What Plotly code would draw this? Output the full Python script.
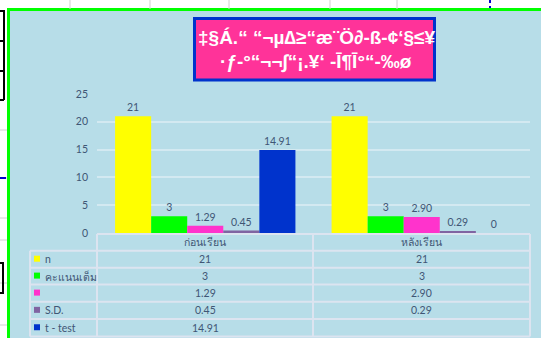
import plotly.graph_objects as go

# ---------------- data ----------------
categories = ["ก่อนเรียน", "หลังเรียน"]
series_names = ["n", "คะแนนเต็ม", "", "S.D.", "t - test"]
n_vals = [21, 21]
full_vals = [3, 3]
mean_vals = [1.29, 2.90]
sd_vals = [0.45, 0.29]
t_vals = [14.91, None]
series_fmt = ["{:.0f}", "{:.0f}", "{:.2f}", "{:.2f}", "{:.2f}"]
series_colors = ["#FFFF00", "#00FF00", "#FF33CC", "#8064A2", "#0033CC"]
y_ticks = [0, 5, 10, 15, 20, 25]
title_lines = ["‡§Á.“ “¬µ∆≥“æ¨Ö∂-ß-¢‘§≤¥", "·ƒ-°“¬¬∫“¡.¥‘ -Ī¶Ī°“-‰ø"]

all_series = [n_vals, full_vals, mean_vals, sd_vals, t_vals]

# ---------------- layout helpers ----------------
W, H = 541, 338
L, R, T, B = 97, 530, 94, 233
PW, PH = R - L, B - T
def px(x):
    return (x - L) / PW
def py(y):
    return (B - y) / PH

TXT = "#3F5675"
FONT = "Lato, 'Noto Sans', 'DejaVu Sans', sans-serif"

fig = go.Figure()
for name, vals, fmt, col in zip(series_names, all_series, series_fmt, series_colors):
    yv = [0 if v is None else v for v in vals]
    fig.add_trace(go.Bar(
        x=categories, y=yv, name=name, marker=dict(color=col, line=dict(width=0)),
        text=[fmt.format(v) if v is not None and v != 0 else "0" for v in vals],
        textposition="outside", cliponaxis=False,
        textfont=dict(size=10.5, color=TXT, family=FONT),
    ))

shapes = []
annotations = []

# spreadsheet decorations outside chart
for gx in [70, 150, 229, 330, 397]:
    shapes.append(dict(type="line", xref="paper", yref="paper", x0=px(gx), x1=px(gx),
                       y0=py(0), y1=py(9), line=dict(color="#D0D0D0", width=1)))
for gy in [130, 178, 218, 240, 283, 325]:
    shapes.append(dict(type="line", xref="paper", yref="paper", x0=px(0), x1=px(7),
                       y0=py(gy), y1=py(gy), line=dict(color="#D0D0D0", width=1)))
shapes.append(dict(type="line", xref="paper", yref="paper", x0=px(4), x1=px(4),
                   y0=py(10), y1=py(100), line=dict(color="black", width=2)))
for gy in [11, 41, 71, 100]:
    shapes.append(dict(type="line", xref="paper", yref="paper", x0=px(0), x1=px(4),
                       y0=py(gy), y1=py(gy), line=dict(color="black", width=2)))
shapes.append(dict(type="rect", xref="paper", yref="paper", x0=px(-2), x1=px(3),
                   y0=py(263), y1=py(293), line=dict(color="black", width=2)))
shapes.append(dict(type="line", xref="paper", yref="paper", x0=px(0), x1=px(6),
                   y0=py(178), y1=py(178), line=dict(color="#0000CC", width=2)))
shapes.append(dict(type="line", xref="paper", yref="paper", x0=px(490), x1=px(490),
                   y0=py(0), y1=py(8), line=dict(color="#0000CC", width=2, dash="dot")))

# chart area
shapes.append(dict(type="rect", xref="paper", yref="paper", layer="below",
                   x0=px(8.5), x1=px(548), y0=py(9.5), y1=py(348),
                   fillcolor="#B7DDE8", line=dict(color="#00FF00", width=3)))

# title box
shapes.append(dict(type="rect", xref="paper", yref="paper",
                   x0=px(194.5), x1=px(434.5), y0=py(18.5), y1=py(80),
                   fillcolor="#FF3399", line=dict(color="#0033CC", width=3)))
for i, line in enumerate(title_lines):
    annotations.append(dict(xref="paper", yref="paper", x=px(316), y=py(37 + i * 25),
                            text="<b>" + line + "</b>", showarrow=False,
                            font=dict(size=19, color="white", family="Arial, 'Liberation Sans', sans-serif"),
                            xanchor="center", yanchor="middle"))

# data table
TL = "#DCE4F0"
rows_y = [234, 250.7, 267.7, 284.5, 301.7, 319, 336.5]
col_x = [30, 97, 313, 530]
shapes.append(dict(type="line", xref="paper", yref="paper", x0=px(97), x1=px(530),
                   y0=py(rows_y[0]), y1=py(rows_y[0]), line=dict(color=TL, width=2)))
for ry in rows_y[1:]:
    shapes.append(dict(type="line", xref="paper", yref="paper", x0=px(30), x1=px(530),
                       y0=py(ry), y1=py(ry), line=dict(color=TL, width=2)))
for cx in col_x:
    top = rows_y[1] if cx == 30 else rows_y[0]
    shapes.append(dict(type="line", xref="paper", yref="paper", x0=px(cx), x1=px(cx),
                       y0=py(top), y1=py(rows_y[-1]), line=dict(color=TL, width=2)))

col_centers = [(col_x[1] + col_x[2]) / 2, (col_x[2] + col_x[3]) / 2]
for c, cat in enumerate(categories):
    annotations.append(dict(xref="paper", yref="paper", x=px(col_centers[c]),
                            y=py((rows_y[0] + rows_y[1]) / 2), text=cat, showarrow=False,
                            font=dict(size=10.5, color=TXT, family=FONT), xanchor="center", yanchor="middle"))
for r, (name, vals, fmt, col) in enumerate(zip(series_names, all_series, series_fmt, series_colors)):
    ymid = (rows_y[r + 1] + rows_y[r + 2]) / 2
    shapes.append(dict(type="rect", xref="paper", yref="paper", x0=px(34), x1=px(40),
                       y0=py(ymid - 3.5), y1=py(ymid + 2.5), fillcolor=col, line=dict(width=0)))
    annotations.append(dict(xref="paper", yref="paper", x=px(43), y=py(ymid), text=name,
                            showarrow=False, font=dict(size=10.5, color=TXT, family=FONT),
                            xanchor="left", yanchor="middle"))
    for c, v in enumerate(vals):
        annotations.append(dict(xref="paper", yref="paper", x=px(col_centers[c]), y=py(ymid),
                                text="" if v is None else fmt.format(v), showarrow=False,
                                font=dict(size=10.5, color=TXT, family=FONT),
                                xanchor="center", yanchor="middle"))

fig.update_layout(
    width=W, height=H, margin=dict(l=L, r=W - R, t=T, b=H - B),
    paper_bgcolor="white", plot_bgcolor="rgba(0,0,0,0)",
    barmode="group", bargap=0.167, bargroupgap=0,
    showlegend=False, shapes=shapes, annotations=annotations,
    font=dict(family=FONT, color=TXT, size=10),
)
fig.update_xaxes(showticklabels=False, showgrid=False, zeroline=False, showline=False, ticks="")
fig.update_yaxes(range=[0, 25], tickvals=y_ticks, showgrid=True, gridcolor="#D3E9F1", gridwidth=1.5,
                 zeroline=False, showline=False, ticks="", ticklabelstandoff=8,
                 tickfont=dict(size=10.5, color=TXT, family=FONT))

fig.write_html("out.html")
